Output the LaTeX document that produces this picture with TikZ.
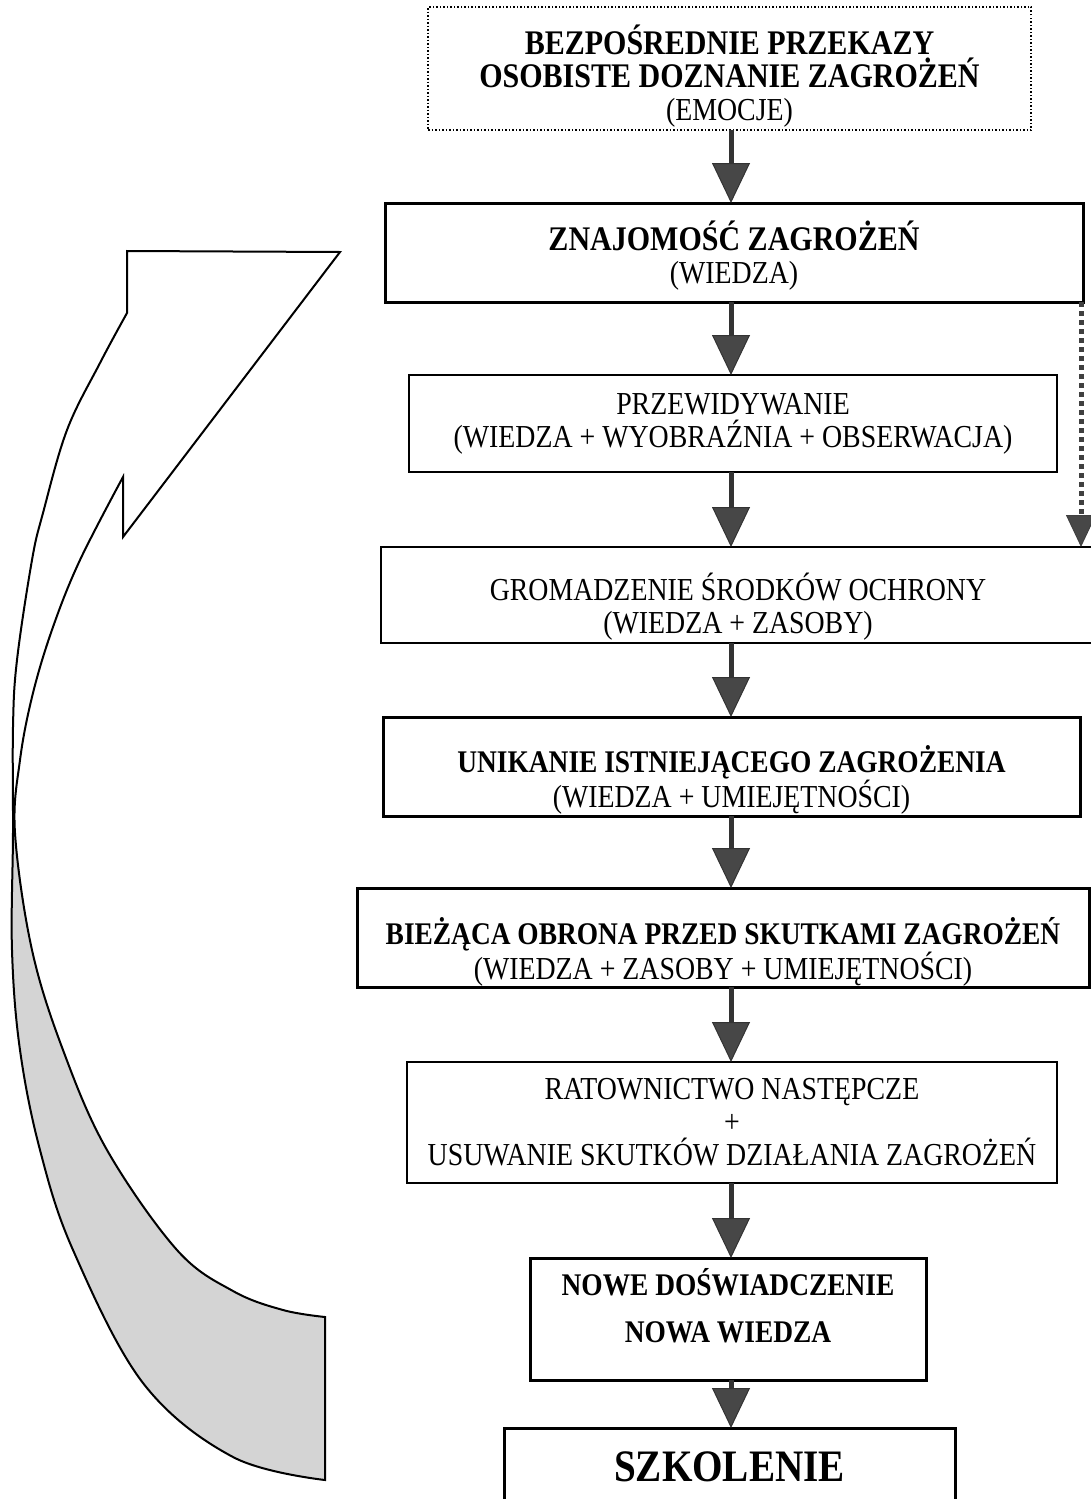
\documentclass[tikz,border=0pt]{standalone}
\usepackage{fontspec}
\setmainfont{Liberation Serif}[FakeStretch=0.87]
\usetikzlibrary{arrows.meta}
\newcommand\Bbig{\fontsize{34.5}{32}\selectfont\bfseries}
\newcommand\Bmid{\fontsize{31.5}{33}\selectfont\bfseries}
\newcommand\Rg{\fontsize{32}{32}\selectfont}
\newcommand\dn[1]{\rule{0pt}{#1}}
\newcommand\up[1]{\rule[-#1]{0pt}{#1}}
\tikzset{
  box/.style={rectangle, draw=black, outer sep=0pt, inner sep=0pt, align=center,
              font=\fontsize{32}{33}\selectfont},
  boxthin/.style={box, line width=1.5pt},
  boxthick/.style={box, line width=3pt},
  boxdot/.style={box, line width=1.5pt, dotted},
  flowarrow/.style={line width=5pt, draw=black!80,
     -{Triangle[width=38pt,length=40pt,line width=1pt,fill=black!72]}},
  dotarrow/.style={line width=5pt, draw=black!75, dash pattern=on 5pt off 4pt,
     -{Triangle[width=30pt,length=32pt,line width=1pt,fill=black!72]}},
  curveline/.style={line width=2pt, draw=black, line join=miter},
  backfill/.style={fill=black!17}
}
\begin{document}
\begin{tikzpicture}[x=1pt,y=-1pt]
\clip (0,0) rectangle (1091,1499);
\fill[white] (0,0) rectangle (1091,1499);

% axis for vertical arrows
\coordinate (ax) at (731,0);
\coordinate (dx) at (1081,0);

% boxes
\node[boxdot, minimum width=603pt, minimum height=123pt] (n1) at (729.5,68.5)
  {\dn{45pt}{\Bbig BEZPOŚREDNIE PRZEKAZY}\\{\Bbig OSOBISTE DOZNANIE ZAGROŻEŃ}\\{\Rg (EMOCJE)}};
\node[boxthick, minimum width=698pt, minimum height=99pt] (n2) at (734,252.5)
  {\dn{36pt}{\Bbig ZNAJOMOŚĆ ZAGROŻEŃ}\\{\Rg (WIEDZA)}};
\node[boxthin, minimum width=648pt, minimum height=97pt] (n3) at (733,423.5)
  {PRZEWIDYWANIE\\(WIEDZA + WYOBRAŹNIA + OBSERWACJA)};
\node[boxthin, line width=2pt, minimum width=714pt, minimum height=96pt] (n4) at (738,595)
  {\dn{50pt}GROMADZENIE ŚRODKÓW OCHRONY\\(WIEDZA + ZASOBY)};
\node[boxthick, minimum width=697pt, minimum height=99pt] (n5) at (731.5,766.5)
  {\dn{53pt}{\Bmid UNIKANIE ISTNIEJĄCEGO ZAGROŻENIA}\\{\Rg (WIEDZA + UMIEJĘTNOŚCI)}};
\node[boxthick, minimum width=732pt, minimum height=99pt] (n6) at (723,937.5)
  {\dn{56pt}{\Bmid BIEŻĄCA OBRONA PRZED SKUTKAMI ZAGROŻEŃ}\\{\Rg (WIEDZA + ZASOBY + UMIEJĘTNOŚCI)}};
\node[boxthin, minimum width=650pt, minimum height=121pt] (n7) at (732,1122.5)
  {RATOWNICTWO NASTĘPCZE\\+\\USUWANIE SKUTKÓW DZIAŁANIA ZAGROŻEŃ};
\node[boxthick, minimum width=396pt, minimum height=122pt] (n8) at (728,1319)
  {{\Bmid NOWE DOŚWIADCZENIE}\\[14pt]{\Bmid NOWA WIEDZA\up{27pt}}};
\node[boxthick, minimum width=451pt, minimum height=90pt] (n9) at (729.5,1473)
  {\raisebox{12pt}{\fontsize{45}{48}\selectfont\bfseries SZKOLENIE}};

% vertical flow arrows
\draw[flowarrow] (n1.south -| ax) -- (n2.north -| ax);
\draw[flowarrow] (n2.south -| ax) -- (n3.north -| ax);
\draw[flowarrow] (n3.south -| ax) -- (n4.north -| ax);
\draw[flowarrow] (n4.south -| ax) -- (n5.north -| ax);
\draw[flowarrow] (n5.south -| ax) -- (n6.north -| ax);
\draw[flowarrow] (n6.south -| ax) -- (n7.north -| ax);
\draw[flowarrow] (n7.south -| ax) -- (n8.north -| ax);
\draw[flowarrow] (n8.south -| ax) -- (n9.north -| ax);

% dotted side arrow
\draw[dotarrow] (n2.south -| dx) -- (n4.north -| dx);

% curved feedback arrow: shaded back part
\fill[backfill]
  plot[smooth,tension=0.6] coordinates {(13,833) (12,950) (20,1050) (40,1150) (73,1250) (143,1383) (233,1457) (325,1480)}
  -- (325,1317)
  -- plot[smooth,tension=0.6] coordinates {(325,1317) (283,1310) (233,1291) (177,1250) (107,1150) (63,1050) (32,950) (15,833)}
  -- cycle;
% outline
\draw[curveline]
  plot[smooth,tension=0.6] coordinates {(127,313) (100,363) (67,430) (43,513) (32,560) (17,660) (13,727) (13,833) (12,950) (20,1050) (40,1150) (73,1250) (143,1383) (233,1457) (325,1480)}
  -- (325,1317)
  -- plot[smooth,tension=0.6] coordinates {(325,1317) (283,1310) (233,1291) (177,1250) (107,1150) (63,1050) (32,950) (15,833) (20,760) (33,693) (53,627) (80,560) (123,477)}
  -- (123,537) -- (340,252) -- (127,251) -- cycle;
\end{tikzpicture}
\end{document}
